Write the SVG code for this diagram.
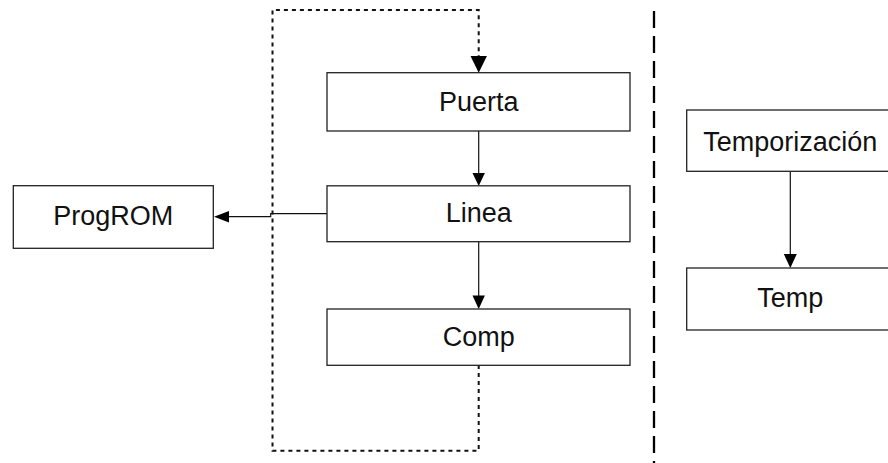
<svg xmlns="http://www.w3.org/2000/svg" width="888" height="463" viewBox="0 0 888 463">
<style>
.box{fill:#fff;stroke:#222;stroke-width:1.3}
.lbl{font-family:"Liberation Sans",Arial,sans-serif;font-size:27px;fill:#111;text-anchor:middle}
.solid{fill:none;stroke:#111;stroke-width:1.2}
.dot{fill:none;stroke:#111;stroke-width:2;stroke-dasharray:4 4}
.head{fill:#000}
</style>
<rect width="888" height="463" fill="#fff"/>
<g id="connectors">
<path class="dot" d="M478.7,365 V450.7 H272.5 V10 H478.7 V57"/>
<polygon class="head" points="470.5,56 486.9,56 478.7,72.7"/>
<line class="solid" x1="478.7" y1="131" x2="478.7" y2="174"/>
<polygon class="head" points="472.5,173 484.9,173 478.7,186"/>
<line class="solid" x1="478.7" y1="241.7" x2="478.7" y2="296"/>
<polygon class="head" points="472.5,295.5 484.9,295.5 478.7,309"/>
<path class="solid" d="M327,213.7 H270.7 V216.7 H228"/>
<polygon class="head" points="229,211 229,222.4 214,216.7"/>
<line class="solid" x1="790.3" y1="171.3" x2="790.3" y2="255"/>
<polygon class="head" points="783.8,254 796.8,254 790.3,268"/>
<line x1="654" y1="11" x2="654" y2="463" stroke="#000" stroke-width="2.3" stroke-dasharray="17 8"/>
</g>
<g id="node-puerta"><rect class="box" x="327" y="72.7" width="303" height="58.3"/><text class="lbl" x="478.7" y="110.5">Puerta</text></g>
<g id="node-linea"><rect class="box" x="327" y="185.8" width="303" height="55.9"/><text class="lbl" x="478.7" y="222.3">Linea</text></g>
<g id="node-comp"><rect class="box" x="327" y="309" width="303" height="56.3"/><text class="lbl" x="478.7" y="345.7">Comp</text></g>
<g id="node-progrom"><rect class="box" x="13.3" y="185.7" width="200" height="62.6"/><text class="lbl" x="113.3" y="225">ProgROM</text></g>
<g id="node-temporizacion"><rect class="box" x="686.7" y="110" width="207" height="61.3"/><text class="lbl" x="790.3" y="150.7">Temporización</text></g>
<g id="node-temp"><rect class="box" x="686.7" y="268" width="207" height="62"/><text class="lbl" x="790.3" y="306.7">Temp</text></g>
</svg>
